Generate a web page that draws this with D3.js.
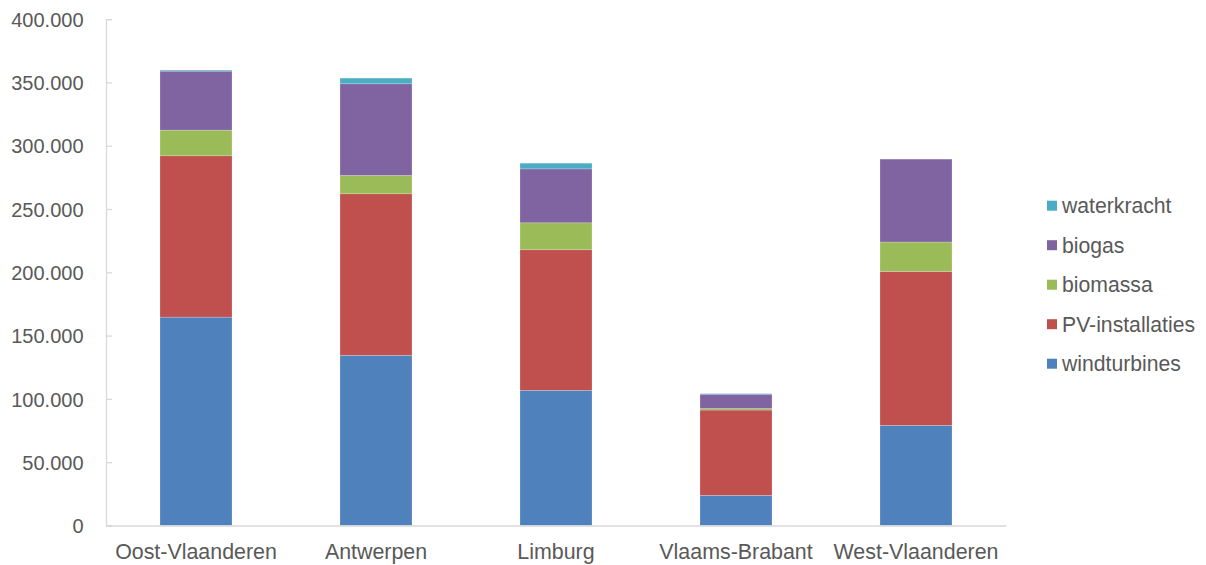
<!DOCTYPE html>
<html><head><meta charset="utf-8">
<script src="https://cdn.jsdelivr.net/npm/d3@7"></script>
<style>body{margin:0;background:#fff}svg{display:block}text{font-family:"Liberation Sans",Arial,sans-serif;fill:#595959}</style>
</head><body><svg id="c" width="1206" height="565"></svg>
<script>
const categories = ["Oost-Vlaanderen","Antwerpen","Limburg","Vlaams-Brabant","West-Vlaanderen"];
const seriesNames = ["windturbines","PV-installaties","biomassa","biogas","waterkracht"];
const colors = ["#4F81BD","#C0504D","#9BBB59","#8064A2","#4BACC6"];
const windturbines = [164600,134400,106800,23800,79100];
const pvInstallaties = [127400,127600,111000,67400,121600];
const biomassa = [20300,14500,21300,1200,23200];
const biogas = [46600,72400,42600,11300,65500];
const waterkracht = [800,4500,4500,500,0];
const yTicks = [0,50000,100000,150000,200000,250000,300000,350000,400000];

const seriesValues = [windturbines,pvInstallaties,biomassa,biogas,waterkracht];
const rows = categories.map((c,i)=>{const r={cat:c};seriesNames.forEach((s,j)=>r[s]=seriesValues[j][i]);return r;});
const stacked = d3.stack().keys(seriesNames)(rows);

const svg = d3.select("#c");
const mLeft=106, mRight=1006, mTop=19.1, mBottom=525.5;
const x = d3.scaleBand().domain(categories).range([mLeft,mRight]).paddingInner(0.6).paddingOuter(0.3);
const y = d3.scaleLinear().domain([0,400000]).range([mBottom,mTop]);
const fmt = v => d3.format(",")(v).replace(/,/g,".");

// y axis
const ya = svg.append("g").attr("transform",`translate(${mLeft},0)`)
  .call(d3.axisLeft(y).tickValues(yTicks).tickSize(-6).tickPadding(0).tickFormat(fmt));
ya.select(".domain").attr("stroke","#d9d9d9").attr("stroke-width",1.3);
ya.selectAll(".tick line").attr("stroke","#d9d9d9").attr("stroke-width",1.3);
ya.selectAll(".tick text").attr("dy","0.36em").attr("font-size",20).attr("fill","#595959").attr("x",-22.5);

// bars
svg.append("g").selectAll("g").data(stacked).join("g").attr("fill",(d,i)=>colors[i])
  .selectAll("rect").data(d=>d).join("rect")
  .attr("x",d=>x(d.data.cat)).attr("width",x.bandwidth())
  .attr("y",d=>y(d[1])).attr("height",d=>Math.max(0,y(d[0])-y(d[1])))
  .attr("stroke","#ffffff").attr("stroke-opacity",0.35).attr("stroke-width",0.6);

// x axis
const xa = svg.append("g").attr("transform",`translate(0,${mBottom})`)
  .call(d3.axisBottom(x).tickSize(0).tickPadding(0));
xa.select(".domain").attr("stroke","#d9d9d9").attr("stroke-width",1.6);
xa.selectAll(".tick text").attr("font-size",21.4).attr("fill","#595959").attr("y",33.5).attr("dy","0");

// legend
const lg = svg.append("g");
const order = [4,3,2,1,0];
order.forEach((si,k)=>{
  const cy = 205.7 + k*39.5;
  lg.append("rect").attr("x",1047).attr("y",cy-5).attr("width",10).attr("height",10).attr("fill",colors[si]);
  lg.append("text").attr("x",1062).attr("y",cy).attr("dy","0.36em").attr("font-size",21.2).attr("fill","#595959").text(seriesNames[si]);
});
</script></body></html>
